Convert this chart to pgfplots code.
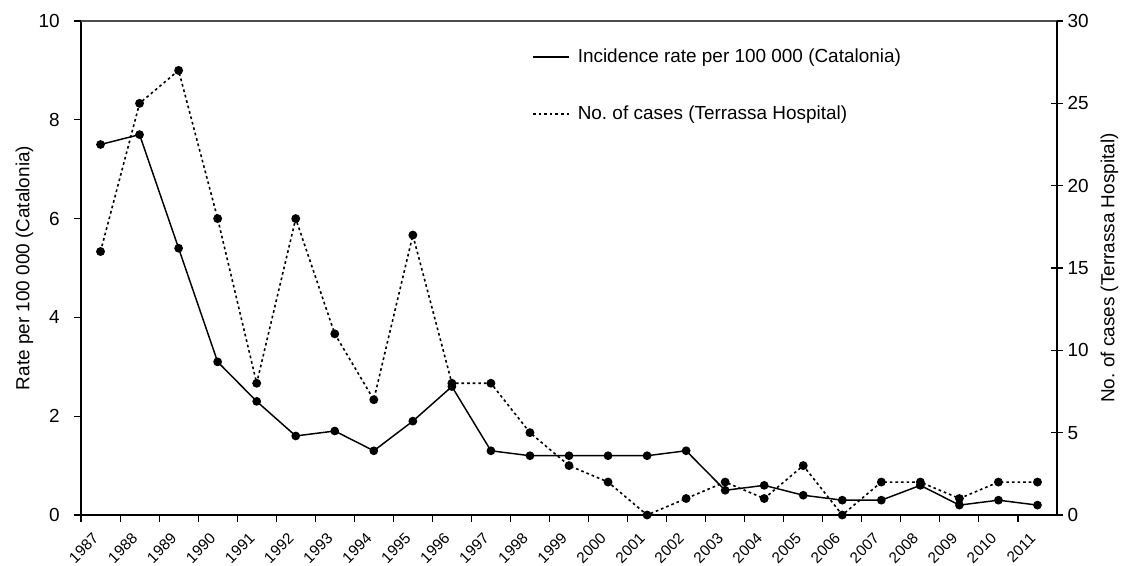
\documentclass[border=0pt]{standalone}
\usepackage{fontspec}
\setmainfont{Liberation Sans}
\usepackage{pgfplots}
\pgfplotsset{compat=1.18}
\begin{document}
\frenchspacing
\begin{tikzpicture}
\path[use as bounding box] (-60.75pt,-38.25pt) rectangle (785.25pt,386.25pt);
\begin{axis}[
  scale only axis, width=732pt, height=370.5pt,
  xmin=0, xmax=25, ymin=0, ymax=10,
  axis x line*=bottom, axis y line*=left,
  axis line style={line width=1pt},
  xtick={0,...,24},
  xticklabels={1987,1988,1989,1990,1991,1992,1993,1994,1995,1996,1997,1998,1999,2000,2001,2002,2003,2004,2005,2006,2007,2008,2009,2010,2011},
  x tick label style={rotate=45, anchor=north east, font=\fontsize{11.5}{13}\selectfont, xshift=1.3pt, yshift=-10.2pt, inner sep=1pt},
  ytick={0,2,4,6,8,10},
  y tick label style={font=\fontsize{14.2}{16}\selectfont, xshift=-7.5pt},
  tick align=outside, major tick length=5pt,
  tick style={black, line width=0.8pt},
  /pgf/number format/assume math mode=true,
  ylabel={Rate per 100 000 (Catalonia)},
  ylabel style={font=\fontsize{14.2}{16}\selectfont, yshift=-3pt},
  clip=false,
]
\addplot[black, line width=1.1pt, mark=*, mark size=2.7pt] coordinates {
(0.5,7.5) (1.5,7.7) (2.5,5.4) (3.5,3.1) (4.5,2.3) (5.5,1.6) (6.5,1.7) (7.5,1.3) (8.5,1.9) (9.5,2.6)
(10.5,1.3) (11.5,1.2) (12.5,1.2) (13.5,1.2) (14.5,1.2) (15.5,1.3) (16.5,0.5) (17.5,0.6) (18.5,0.4) (19.5,0.3)
(20.5,0.3) (21.5,0.6) (22.5,0.2) (23.5,0.3) (24.5,0.2)};
\end{axis}
\begin{axis}[
  scale only axis, width=732pt, height=370.5pt,
  xmin=0, xmax=25, ymin=0, ymax=30,
  axis x line*=top, axis y line*=right,
  x axis line style={line width=0.8pt, black!70},
  y axis line style={line width=1pt},
  xtick=\empty,
  ytick={0,5,10,15,20,25,30},
  y tick label style={font=\fontsize{14.2}{16}\selectfont},
  tick align=center, major tick length=9pt,
  tick style={black, line width=0.8pt},
  /pgf/number format/assume math mode=true,
  ylabel={No. of cases (Terrassa Hospital)},
  ylabel style={font=\fontsize{14.2}{16}\selectfont, yshift=-2pt},
  legend style={draw=none, fill=none, at={(0.462,0.949)}, anchor=north west,
    font=\fontsize{14.2}{16}\selectfont, row sep=27pt, inner sep=0pt,
    nodes={inner xsep=6pt}},
  legend cell align=left,
  legend image code/.code={\draw[#1] (0pt,0pt) -- (27pt,0pt);},
  clip=false,
]
\addlegendimage{black, line width=1.1pt}
\addlegendentry{Incidence rate per 100 000 (Catalonia)}
\addplot[black, line width=1.2pt, dash pattern=on 2pt off 2.2pt, mark=*, mark size=2.7pt, mark options={solid}] coordinates {
(0.5,16) (1.5,25) (2.5,27) (3.5,18) (4.5,8) (5.5,18) (6.5,11) (7.5,7) (8.5,17) (9.5,8)
(10.5,8) (11.5,5) (12.5,3) (13.5,2) (14.5,0) (15.5,1) (16.5,2) (17.5,1) (18.5,3) (19.5,0)
(20.5,2) (21.5,2) (22.5,1) (23.5,2) (24.5,2)};
\addlegendentry{No. of cases (Terrassa Hospital)}
\end{axis}
\end{tikzpicture}
\end{document}
